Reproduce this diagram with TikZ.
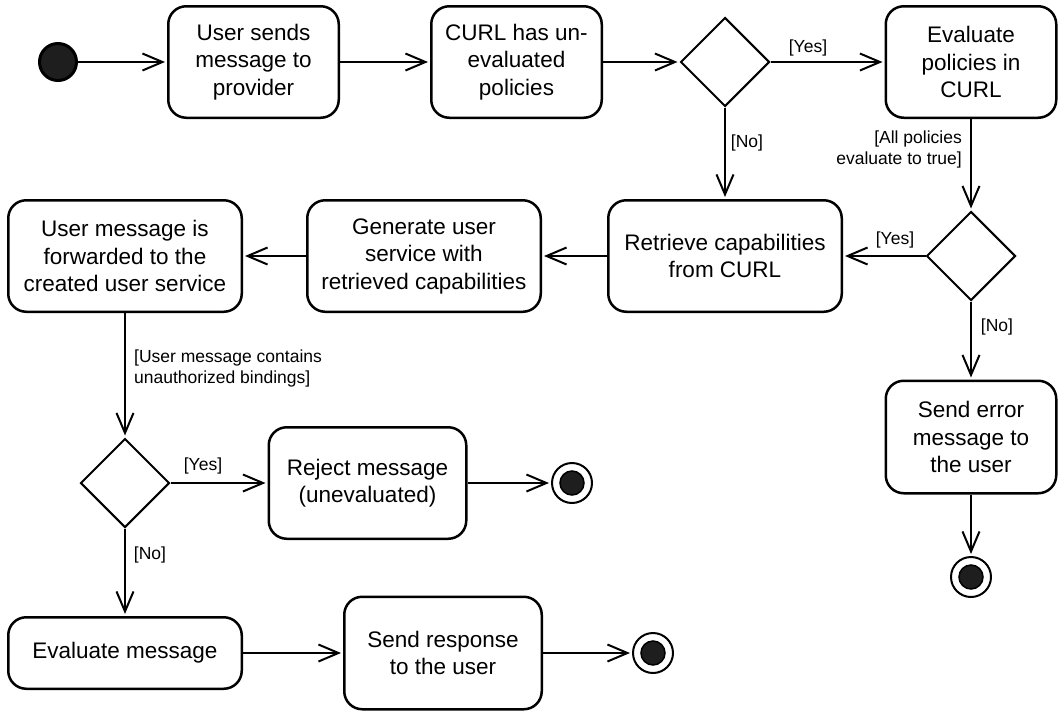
\documentclass[tikz,border=0pt]{standalone}
\usepackage{fontspec}
\setmainfont{Liberation Sans}
\usetikzlibrary{shapes.geometric,arrows.meta}
\definecolor{dark}{HTML}{1E1E1E}
\begin{document}
\begin{tikzpicture}[x=1pt,y=-1pt,
  act/.style={draw, line width=2.5pt, rounded corners=18pt, align=center, inner sep=0pt,
    font=\fontsize{22.5}{27.5}\selectfont},
  dec/.style={draw, diamond, line width=2pt, minimum width=89pt, minimum height=89pt, inner sep=0pt},
  startnode/.style={circle, draw, fill=dark, line width=3pt, minimum size=37pt, inner sep=0pt},
  endring/.style={circle, draw, fill=white, line width=2pt, minimum size=40pt, inner sep=0pt},
  enddot/.style={circle, draw, fill=dark, line width=1.5pt, minimum size=24pt, inner sep=0pt},
  flow/.style={line width=2pt, -{Straight Barb[length=20pt,width=17pt,line width=2pt]}, shorten >=2pt},
  lbl/.style={font=\fontsize{17.5}{21}\selectfont, inner sep=0pt, align=left}
]
\useasboundingbox (0,0) rectangle (1061,713);

% row 1
\node[startnode] (s) at (58,62) {};
\node[act, minimum width=170.5pt, minimum height=111.5pt] (b1) at (253.5,62) {User sends\\message to\\provider};
\node[act, minimum width=170.5pt, minimum height=111.5pt] (b2) at (516.5,62) {CURL has un-\\evaluated\\policies};
\node[dec] (d1) at (725,62) {};
\node[act, minimum width=170.5pt, minimum height=111.5pt] (b3) at (971,62) {Evaluate\\policies in\\CURL};

% row 2
\node[dec] (d2) at (971,256) {};
\node[act, minimum width=233.5pt, minimum height=111.5pt] (ret) at (725,256) {Retrieve capabilities\\from CURL};
\node[act, minimum width=233.5pt, minimum height=111.5pt] (gen) at (424,256) {Generate user\\service with\\retrieved capabilities};
\node[act, minimum width=233.5pt, minimum height=111.5pt] (fwd) at (125,256) {User message is\\forwarded to the\\created user service};

% right column
\node[act, minimum width=170.5pt, minimum height=112.5pt] (err) at (971,437) {Send error\\message to\\the user};
\node[endring] (e1) at (971,577) {};
\node[enddot] (e1in) at (e1) {};

% row 3
\node[dec] (d3) at (125,483) {};
\node[act, minimum width=197.5pt, minimum height=111.5pt] (rej) at (367.5,483) {Reject message\\(unevaluated)};
\node[endring] (e2) at (572,483) {};
\node[enddot] (e2in) at (e2) {};

% row 4
\node[act, minimum width=233.5pt, minimum height=71.5pt] (evm) at (125,653) {Evaluate message};
\node[act, minimum width=197.5pt, minimum height=112.5pt] (resp) at (443,653) {Send response\\to the user};
\node[endring] (e3) at (653,653) {};
\node[enddot] (e3in) at (e3) {};

% connectors
\draw[flow] (s) -- (b1);
\draw[flow] (b1) -- (b2);
\draw[flow] (b2) -- (d1);
\draw[flow] (d1) -- (b3);
\draw[flow] (d1) -- (ret);
\draw[flow] (b3) -- (d2);
\draw[flow] (d2) -- (ret);
\draw[flow] (d2) -- (err);
\draw[flow] (err) -- (e1);
\draw[flow] (ret) -- (gen);
\draw[flow] (gen) -- (fwd);
\draw[flow] (fwd) -- (d3);
\draw[flow] (d3) -- (rej);
\draw[flow] (rej) -- (e2);
\draw[flow] (d3) -- (evm);
\draw[flow] (evm) -- (resp);
\draw[flow] (resp) -- (e3);

% guard labels
\node[lbl] (l1) at (808,48) {[Yes]};
\node[lbl] (l2) at (747,143) {[No]};
\node[lbl, anchor=east, align=right] (l3) at (962,149) {[All policies\\evaluate to true]};
\node[lbl] (l4) at (895,240) {[Yes]};
\node[lbl] (l5) at (997,327) {[No]};
\node[lbl, anchor=west] (l6) at (134,368) {[User message contains\\unauthorized bindings]};
\node[lbl] (l7) at (203,466) {[Yes]};
\node[lbl] (l8) at (150,555) {[No]};
\end{tikzpicture}
\end{document}
